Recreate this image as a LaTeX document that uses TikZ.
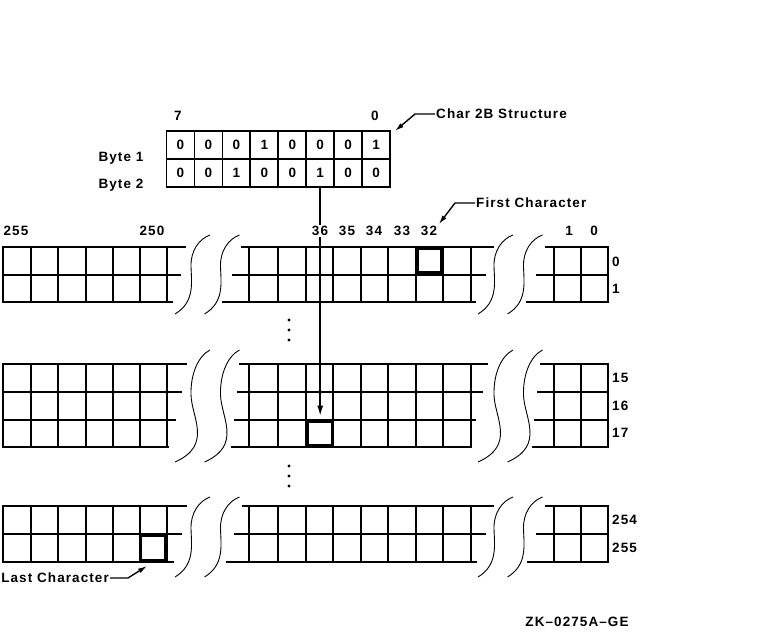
\documentclass[tikz,border=0pt]{standalone}
\usepackage{fontspec}
\setmainfont{Liberation Sans}[LetterSpace=8]
\usetikzlibrary{arrows.meta}

\tikzset{
  gridline/.style={line width=2pt, line cap=rect},
  bitcell/.style={draw, line width=1.8pt, minimum width=27.94pt, minimum height=28pt, inner sep=0pt},
  hicell/.style={draw, line width=3.3pt, minimum width=24.5pt, minimum height=24.5pt, inner sep=0pt},
  lbl/.style={inner sep=1pt, text height=9.7pt, text depth=0pt},
  dot/.style={circle, fill, inner sep=0pt, minimum size=3.2pt},
  breakline/.style={line width=0.9pt},
  ptr/.style={line width=1.4pt, -{Latex[length=9pt,width=5pt]}},
  pics/wavygap/.style={code={
    \foreach \dx in {0,29.5}
      \draw[breakline] (\dx+35,0) .. controls (\dx+24,0.05) and (\dx+15.5,0.2) .. (\dx+16,0.4)
        .. controls (\dx+16.5,0.6) and (\dx+#1,0.85) .. (\dx,1);
  }}
}

\begin{document}
\begin{tikzpicture}[x=1pt, y=-1pt, font=\fontsize{13.5}{16}\selectfont\bfseries]
  \useasboundingbox (0,0) rectangle (769,632);
  % Char 2B structure
  \foreach \v [count=\i from 0] in {0,0,0,1,0,0,0,1}
    \node[bitcell] (a\i) at (180.5+27.94*\i,145) {\v};
  \foreach \v [count=\i from 0] in {0,0,1,0,0,1,0,0}
    \node[bitcell] (b\i) at (180.5+27.94*\i,173) {\v};
  \node[lbl] (bit7) at (178,116) {7};
  \node[lbl] (bit0) at (375,116) {0};
  \node[lbl] (byte1) at (121,157) {Byte 1};
  \node[lbl] (byte2) at (121,184) {Byte 2};
  \node[lbl, anchor=west] (c2b) at (435,114) {Char 2B Structure};
  \node[lbl, anchor=west] (first) at (475,203) {First Character};
  \node[lbl, anchor=east] (last) at (110,578) {Last Character};
  \node[lbl] (zk) at (577,622) {ZK–0275A–GE};
  % the bits of byte 2 point at row 17, column 36
  \node[hicell] (cell36) at (320,433.5) {};
  \draw[line width=2pt, -{Latex[length=11pt,width=6pt]}, shorten >=3pt] (b5.south) -- (b5.south |- cell36.north);
  % column and row numbers
  \foreach \x/\t in {16/255, 152/250, 320/36, 347/35, 374/34, 402/33, 429/32, 569/1, 594/0}
    \node[lbl, fill=white] (c\t) at (\x,231) {\t};
  \foreach \y/\t in {262/0, 289/1, 378/15, 406/16, 433/17, 520/254, 548/255}
    \node[lbl, anchor=west] (r\t) at (611,\y) {\t};
  % font grid
  \foreach \t/\b in {247/302, 364/447, 506/562}
    \foreach \x in {3,31,58,86,113,140,167,249,278,306,333,361,388,416,443,471,554,581,608}
      \draw[gridline] (\x,\t) -- (\x,\b);
  \foreach \y/\la/\ma/\mb/\ra in {247/185/242/493/546, 274.5/180/233/485/537, 302/172/223/475/527,
      364/186/240/487/541, 392/181/238/482/538, 420/175/235/475/535, 447/168/232/470/533,
      506/186/243/493/546, 534/181/235/485/537, 562/173/227/476/528}
    \draw[gridline] (3,\y) -- (\la,\y) (\ma,\y) -- (\mb,\y) (\ra,\y) -- (608,\y);
  \foreach \t/\s/\b in {235/79/20, 350/112/38, 497/80/20}
    \foreach \x in {175,478}
      \pic[yscale=\s] at (\x,\t) {wavygap=\b};
  \node[hicell] (cell32) at (429.5,260.5) {};
  \node[hicell] (cell250) at (153,548) {};
  \node[hicell] at (cell36) {};
  \foreach \y [count=\k] in {320,330,340}
    \node[dot] (d\k) at (289,\y) {};
  \foreach \y [count=\k] in {466,476,486}
    \node[dot] (e\k) at (289,\y) {};
  % pointers
  \coordinate (c2btip) at (395,131);
  \coordinate (lasttip) at (147,566);
  \draw[ptr] (c2b.west) -- ++(-20,0) -- (c2btip);
  \draw[ptr, shorten >=1pt] (first.west) -- ++(-20,0) -- (c32.north east);
  \draw[ptr] (last.east) -- ++(18,0) -- (lasttip);
\end{tikzpicture}
\end{document}
